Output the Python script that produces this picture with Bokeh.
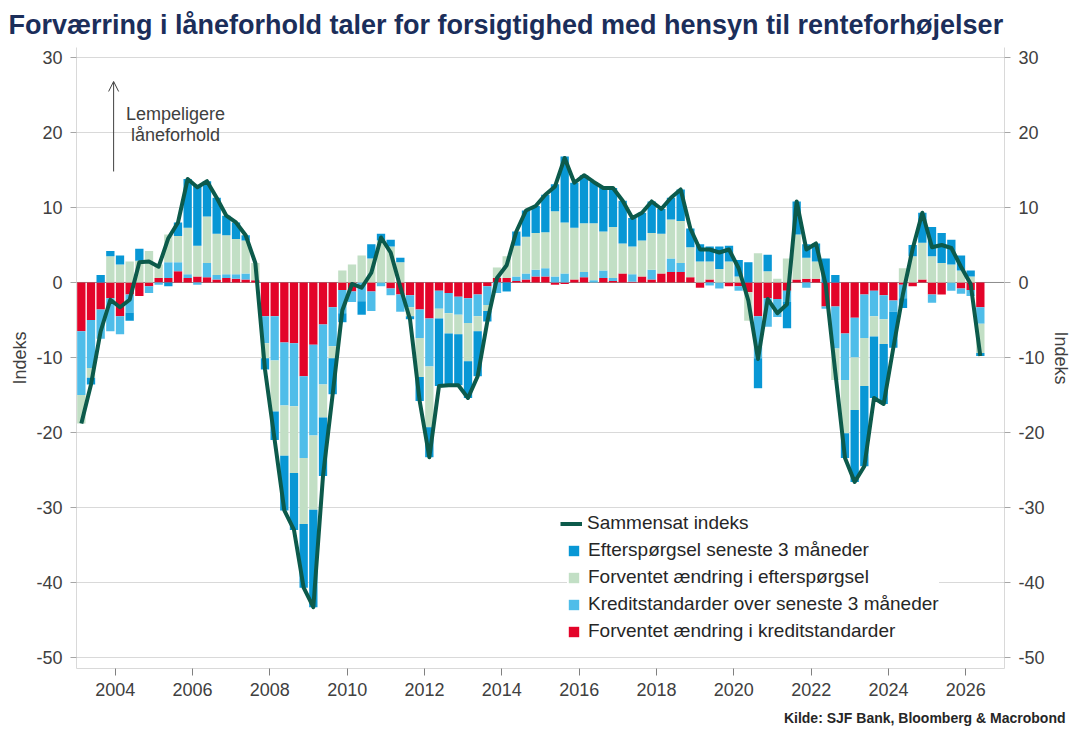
import numpy as np
from bokeh.plotting import figure
from bokeh.models import (ColumnDataSource, LinearAxis, FixedTicker, Range1d, Span,
                          Legend, LegendItem, Arrow, OpenHead, Label, Title,
                          PrintfTickFormatter)
from bokeh.embed import file_html
from bokeh.resources import INLINE

# Quarterly observations, 2003Q1 - 2026Q2
years = [2003 + i // 4 for i in range(94)]
qtrs = [i % 4 + 1 for i in range(94)]

# Forventet ændring i kreditstandarder
kredit_forv = [-6.5, -5.0, -3.6, -2.1, -4.5, -1.6, -1.8, -0.5, 0.6, 0.6,
               1.5, 0.6, 0.8, 0.7, 0.4, 0.6, 0.5, 0.4, 0.3, -4.5,
               -4.5, -8.0, -8.1, -12.5, -8.3, -5.6, -3.3, -1.0, -1.2, 0.0,
               -1.2, 0.0, -0.8, -1.6, -1.7, -3.6, -4.8, -1.1, -1.4, -1.9,
               -2.1, -1.6, -0.5, 0.6, 0.6, 0.2, 0.4, 0.8, 0.8, -0.3,
               -0.2, 0.4, 0.7, 0.0, 0.6, 0.2, 1.2, 0.1, 0.8, 0.4,
               1.2, 1.4, 1.4, 0.7, -0.7, 0.4, 0.0, -0.5, -0.5, -1.3,
               -4.5, -2.1, -2.2, -1.1, 0.4, 0.5, 0.5, -3.2, -3.2, -6.8,
               -4.7, -1.6, -1.1, -1.7, -2.4, -0.3, -0.5, 0.4, -1.6, -1.6,
               0.0, -0.8, -1.0, -3.3]

# Kreditstandarder over seneste 3 måneder
kredit_3m = [-8.5, -6.4, -3.9, -4.4, -2.4, -2.4, 0.0, -0.9, -0.3, 2.1,
             1.2, 0.5, -0.3, 1.9, 0.6, 0.5, 0.6, 0.8, 0.0, -3.6,
             -5.9, -8.4, -8.4, -10.9, -12.1, -8.0, -5.2, -3.1, -1.4, -2.5,
             -2.6, -0.5, -0.9, -2.3, -1.6, -3.8, -6.4, -2.4, -2.7, -2.4,
             -3.3, -2.9, -2.5, -1.4, 0.0, 0.6, 0.8, 0.9, 1.1, 0.8,
             1.2, 0.0, 0.7, 0.3, 1.0, 0.4, 0.0, 1.0, 0.0, 1.3,
             0.0, 1.8, 1.2, 0.0, 0.0, -0.4, -0.8, 0.0, -0.6, 0.0,
             -5.6, -3.8, -2.4, -1.5, 0.0, -0.7, 0.0, -0.3, -5.6, -6.2,
             -5.3, -5.8, -3.4, -3.2, -1.5, -1.8, 0.0, 0.0, -1.1, 0.0,
             -1.1, -0.7, -0.8, -2.2]

# Forventet ændring i efterspørgsel
eftersp_forv = [-3.8, -1.3, 0.0, 3.5, 2.4, 2.8, 2.9, 4.2, 1.8, 3.7,
                3.5, 6.2, 4.1, 6.2, 5.5, 5.2, 4.7, 4.4, 2.3, -2.0,
                -6.8, -6.7, -8.9, -8.8, -9.9, -4.4, -1.6, 1.6, 2.4, 3.6,
                3.2, 5.6, 4.8, 2.7, -1.2, -5.2, -8.1, -1.3, -2.7, -2.6,
                -5.1, -2.0, -0.8, 1.4, 2.9, 4.1, 4.9, 4.9, 4.8, 8.7,
                6.8, 6.9, 6.5, 7.6, 5.2, 6.8, 4.0, 3.7, 4.8, 4.9,
                5.3, 5.2, 5.6, 4.0, 2.8, 2.4, 1.8, 2.8, 0.8, -3.8,
                3.9, 1.5, 0.5, 3.2, 6.0, 2.8, 2.3, 0.0, -4.2, -7.1,
                -7.0, -6.4, -2.7, -3.3, 0.0, 1.9, 3.5, 4.9, 3.5, 2.6,
                2.4, 1.6, 0.8, -3.9]

# Efterspørgsel seneste 3 måneder
eftersp_3m = [0.0, -0.9, 1.0, 0.7, 1.2, -1.1, 1.6, 0.0, 0.0, -0.5,
              1.8, 6.5, 8.1, 4.7, 4.8, 2.6, 2.2, 0.7, 0.0, -1.5,
              -3.8, -7.3, -7.6, -8.5, -13.0, -7.8, -4.8, -1.2, 0.0, -1.8,
              1.9, 0.9, 0.9, 0.6, -0.4, -3.2, -4.0, -9.0, -6.9, -6.8,
              -4.9, -6.0, -1.4, 0.0, -1.2, 1.9, 3.5, 3.6, 5.0, 3.6,
              8.8, 6.0, 6.4, 5.5, 5.8, 5.2, 5.7, 3.8, 3.7, 4.2,
              3.3, 2.9, 4.2, 2.5, 2.3, 2.0, 3.0, 2.1, 2.2, 2.7,
              -4.0, 2.2, 0.0, -3.5, 4.4, 1.8, 2.4, 3.2, 1.0, -3.3,
              -9.6, -10.7, -8.2, -8.0, -4.8, -1.3, 1.5, 4.0, 3.9, 4.0,
              3.3, 2.0, 0.8, -0.4]

yticks = [-50, -40, -30, -20, -10, 0, 10, 20, 30]
xticks = list(range(2004, 2027, 2))

FONT = "Liberation Sans"
TXT = "#404040"

series = [
    ("Forventet ændring i kreditstandarder", kredit_forv, "#e30429"),
    ("Kreditstandarder over seneste 3 måneder", kredit_3m, "#4fbde9"),
    ("Forventet ændring i efterspørgsel", eftersp_forv, "#c2dfc5"),
    ("Efterspørgsel seneste 3 måneder", eftersp_3m, "#0897d5"),
]

# bar centre placed mid-quarter, in decimal years
x = np.array(years) + (np.array(qtrs) - 1) / 4 + 0.125

# positive and negative parts are stacked separately away from zero
pos_base = np.zeros(len(x))
neg_base = np.zeros(len(x))
data = {"x": x}
for i, (_, vals, _) in enumerate(series):
    v = np.array(vals, dtype=float)
    bottom = np.where(v >= 0, pos_base, neg_base + v)
    top = np.where(v >= 0, pos_base + v, neg_base)
    pos_base = np.where(v >= 0, pos_base + v, pos_base)
    neg_base = np.where(v < 0, neg_base + v, neg_base)
    data[f"b{i}"] = bottom
    data[f"t{i}"] = top
data["total"] = np.sum([np.array(s[1]) for s in series], axis=0)
src = ColumnDataSource(data)

p = figure(width=1080, height=743, output_backend="svg", toolbar_location=None,
           x_range=Range1d(2003, 2027), y_range=Range1d(-51.47, 31.33),
           min_border_left=76, min_border_right=76, min_border_top=47,
           min_border_bottom=75, outline_line_color=None,
           background_fill_color="white", border_fill_color="white")

p.title.text = "Forværring i låneforhold taler for forsigtighed med hensyn til renteforhøjelser"
p.title.align = "left"
p.title.offset = -68
p.title.standoff = 15
p.title.text_font = FONT
p.title.text_font_size = "27px"
p.title.text_font_style = "bold"
p.title.text_color = "#1b2e5a"

p.xaxis.visible = False
p.yaxis.visible = False
p.xgrid.visible = False
p.ygrid.ticker = FixedTicker(ticks=yticks)
p.ygrid.grid_line_color = "#d9d9d9"
p.ygrid.grid_line_width = 1


def style_axis(ax):
    ax.axis_line_color = "#d9d9d9"
    ax.major_tick_line_color = "#a6a6a6"
    ax.major_tick_in = 0
    ax.major_tick_out = 6
    ax.minor_tick_line_color = None
    ax.major_label_text_font = FONT
    ax.major_label_text_font_size = "18px"
    ax.major_label_text_color = TXT
    ax.major_label_standoff = 8
    ax.axis_label_text_font = FONT
    ax.axis_label_text_font_size = "18px"
    ax.axis_label_text_font_style = "normal"
    ax.axis_label_text_color = TXT
    ax.formatter = PrintfTickFormatter(format="%d")


yl = LinearAxis(ticker=FixedTicker(ticks=yticks), axis_label="Indeks")
style_axis(yl)
yl.axis_label_standoff = 3
p.add_layout(yl, "left")

yr = LinearAxis(ticker=FixedTicker(ticks=yticks), axis_label="Indeks")
style_axis(yr)
yr.axis_label_standoff = 3
p.add_layout(yr, "right")

xb = LinearAxis(ticker=FixedTicker(ticks=xticks))
style_axis(xb)
xb.major_tick_line_color = "#808080"
xb.major_tick_out = 7
xb.major_label_standoff = 7
p.add_layout(xb, "below")

source_note = Title(text="Kilde: SJF Bank, Bloomberg & Macrobond", align="right",
                    offset=-61, standoff=18, text_font=FONT, text_font_size="14px",
                    text_font_style="bold", text_color="#262626")
p.add_layout(source_note, "below")

p.add_layout(Span(location=0, dimension="width", line_color="#8c8c8c",
                  line_width=1, level="underlay"))

bar_renderers = []
for i, (name, _, col) in enumerate(series):
    r = p.vbar(x="x", bottom=f"b{i}", top=f"t{i}", width=0.215, source=src,
               fill_color=col, line_color=None)
    bar_renderers.append((name, r))

line = p.line("x", "total", source=src, line_color="#0c5a4b", line_width=4,
              line_join="round")


def style_legend(lg):
    lg.border_line_color = None
    lg.background_fill_color = "white"
    lg.background_fill_alpha = 1
    lg.padding = 0
    lg.margin = 0
    lg.label_text_font = FONT
    lg.label_text_font_size = "19px"
    lg.label_text_color = "#262626"
    lg.label_height = 18
    lg.spacing = 5


leg_line = Legend(items=[LegendItem(label="Sammensat indeks", renderers=[line])],
                  location=(484, 134), glyph_width=22, glyph_height=13,
                  label_standoff=5)
style_legend(leg_line)
p.add_layout(leg_line)

order = [3, 2, 1, 0]
leg_bars = Legend(items=[LegendItem(label=bar_renderers[k][0], renderers=[bar_renderers[k][1]])
                         for k in order],
                  location=(491, 26), glyph_width=13, glyph_height=13,
                  label_standoff=8)
style_legend(leg_bars)
p.add_layout(leg_bars)

# direction note
p.add_layout(Arrow(end=OpenHead(size=10, line_color=TXT, line_width=1),
                   x_start=2003.96, y_start=14.8, x_end=2003.96, y_end=26.8,
                   line_color=TXT, line_width=1))
p.add_layout(Label(x=2005.56, y=22.4, text="Lempeligere", text_align="center",
                   text_baseline="middle", text_font=FONT, text_font_size="18px",
                   text_color=TXT))
p.add_layout(Label(x=2005.56, y=19.7, text="låneforhold", text_align="center",
                   text_baseline="middle", text_font=FONT, text_font_size="18px",
                   text_color=TXT))

open("out.html", "w").write(file_html(p, INLINE))
